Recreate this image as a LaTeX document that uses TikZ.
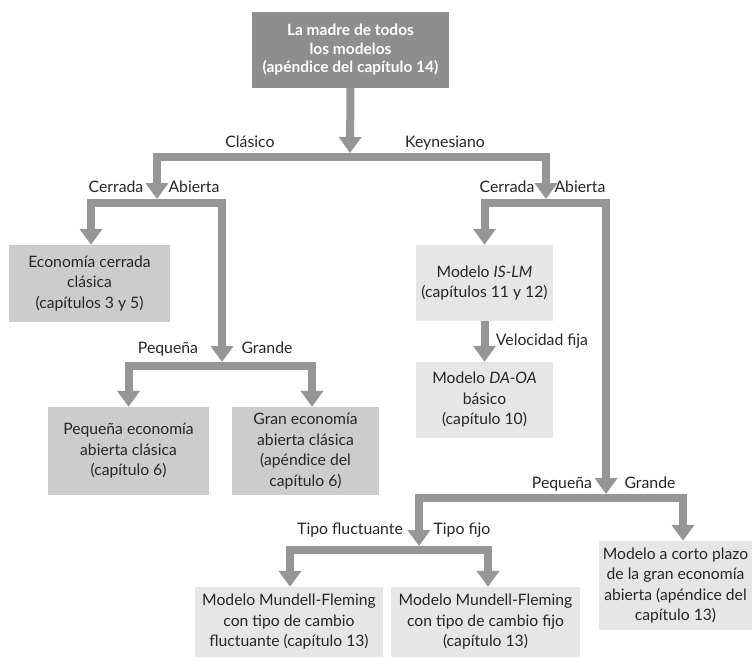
\documentclass[tikz,border=0pt]{standalone}
\usepackage{fontspec}
\setmainfont{Lato}
\usetikzlibrary{arrows.meta}
\definecolor{darkbox}{RGB}{142,142,142}
\definecolor{midbox}{RGB}{204,204,204}
\definecolor{lightbox}{RGB}{230,230,230}
\definecolor{arrgray}{RGB}{150,150,150}
\tikzset{
  basebox/.style={inner sep=0pt, align=center, font=\fontsize{15.7}{20.5}\selectfont, text=black!85},
  topbox/.style={basebox, fill=darkbox, text=white, font=\bfseries\fontsize{15.5}{18.5}\selectfont},
  midnode/.style={basebox, fill=midbox},
  lightnode/.style={basebox, fill=lightbox},
  arr/.style={draw=arrgray, line width=8pt, line join=miter, -{Triangle[width=22pt,length=16pt]}},
  lbl/.style={inner sep=0pt, font=\fontsize{15.8}{18}\selectfont, text=black!85, anchor=base}
}
\begin{document}
\begin{tikzpicture}[x=1pt,y=-1pt]
\useasboundingbox (0,0) rectangle (756,659);
% boxes
\node[topbox, minimum width=197pt, minimum height=76pt] (top) at (350.5,50) {La madre de todos\\los modelos\\(apéndice del capítulo 14)};
\node[midnode, minimum width=161pt, minimum height=77pt] (ecc) at (89.5,283.5) {Economía cerrada\\clásica\\(capítulos 3 y 5)};
\node[midnode, minimum width=161pt, minimum height=88pt] (peq) at (128.5,451) {Pequeña economía\\abierta clásica\\(capítulo 6)};
\node[midnode, minimum width=147pt, minimum height=88pt] (gran) at (305.5,451) {Gran economía\\abierta clásica\\(apéndice del\\capítulo 6)};
\node[lightnode, minimum width=137pt, minimum height=76pt] (islm) at (484.5,283) {Modelo \textit{IS-LM}\\(capítulos 11 y 12)};
\node[lightnode, minimum width=137pt, minimum height=76pt] (daoa) at (484.5,400) {Modelo \textit{DA-OA}\\básico\\(capítulo 10)};
\node[lightnode, minimum width=188pt, minimum height=70pt] (mf1) at (289,622) {Modelo Mundell-Fleming\\con tipo de cambio\\fluctuante (capítulo 13)};
\node[lightnode, minimum width=189pt, minimum height=70pt] (mf2) at (485.5,622) {Modelo Mundell-Fleming\\con tipo de cambio fijo\\(capítulo 13)};
\node[lightnode, minimum width=153pt, minimum height=89pt] (cp) at (675.5,585.5) {Modelo a corto plazo\\de la gran economía\\abierta (apéndice del\\capítulo 13)};
% junction coordinates
\coordinate (J1t) at (350,153);
\coordinate (J1) at (350,157);
\coordinate (A2L) at (157,199);
\coordinate (A2R) at (546,199);
\coordinate (J2L) at (157,203);
\coordinate (A3L) at (222,362);
\coordinate (J3L) at (222,366);
\coordinate (J2R) at (546,203);
\coordinate (A3R) at (606,494);
\coordinate (J3R) at (606,498);
\coordinate (A4) at (419,546);
\coordinate (J4) at (419,550);
% connectors
\draw[arr] (top.south) -- (J1t);
\draw[arr] (J1) -| (A2L);
\draw[arr] (J1) -| (A2R);
\draw[arr] (J2L) -| ([xshift=1.5pt]ecc.north);
\draw[arr] (J2L) -| (A3L);
\draw[arr] (J3L) -| (peq.north);
\draw[arr] (J3L) -| ([xshift=6.5pt]gran.north);
\draw[arr] (J2R) -| (islm.north);
\draw[arr] (J2R) -| (A3R);
\draw[arr] (islm.south) -- (daoa.north);
\draw[arr] (J3R) -| (A4);
\draw[arr] (J3R) -| ([xshift=7.5pt]cp.north);
\draw[arr] (J4) -| ([xshift=1pt]mf1.north);
\draw[arr] (J4) -| ([xshift=2.5pt]mf2.north);
% labels
\node[lbl] (lclas) at (250,147) {Clásico};
\node[lbl] (lkey) at (445,147) {Keynesiano};
\node[lbl] (lcerL) at (116,192) {Cerrada};
\node[lbl] (labL) at (194,192) {Abierta};
\node[lbl] (lcerR) at (507,192) {Cerrada};
\node[lbl] (labR) at (580,192) {Abierta};
\node[lbl] (lpeqL) at (168,353) {Pequeña};
\node[lbl] (lgrL) at (267,353) {Grande};
\node[lbl] (lvel) at (542,345) {Velocidad fija};
\node[lbl] (lpeqR) at (562,488) {Pequeña};
\node[lbl] (lgrR) at (650,488) {Grande};
\node[lbl] (lflu) at (350,534) {Tipo fluctuante};
\node[lbl] (lfijo) at (462,534) {Tipo fijo};
\end{tikzpicture}
\end{document}
